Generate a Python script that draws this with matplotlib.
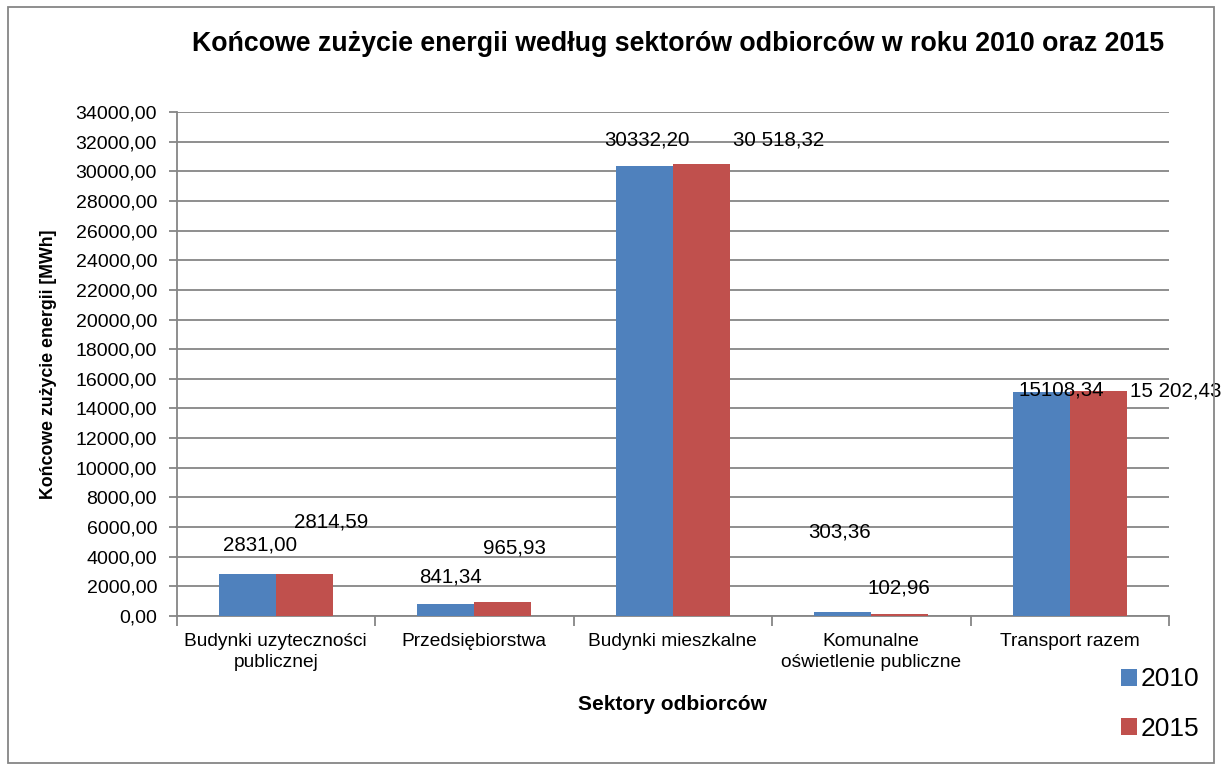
import matplotlib.pyplot as plt
import numpy as np
from matplotlib.patches import Rectangle

plt.rcParams['font.family'] = ['Liberation Sans', 'DejaVu Sans']

# data
sectors = ['Budynki uzyteczności\npublicznej', 'Przedsiębiorstwa', 'Budynki mieszkalne',
           'Komunalne\noświetlenie publiczne', 'Transport razem']
vals_2010 = [2831.00, 841.34, 30332.20, 303.36, 15108.34]
vals_2015 = [2814.59, 965.93, 30518.32, 102.96, 15202.43]
labels_2010 = ['2831,00', '841,34', '30332,20', '303,36', '15108,34']
labels_2015 = ['2814,59', '965,93', '30 518,32', '102,96', '15 202,43']
yticks = np.arange(0, 34001, 2000)

# label offsets (pixels) from bar top, as placed in the original
off_2010 = [(13, 29), (5, 27), (3, 26), (-3, 80), (20, 2)]
off_2015 = [(27, 52), (12, 54), (77, 24), (-1, 26), (77, 0)]

fig = plt.figure(figsize=(12.21, 7.69), dpi=100)
ax = fig.add_axes([176.5/1221, 1-616/769, (1169-176.5)/1221, (616-112)/769])

x = np.arange(len(sectors))
w = 0.287
b1 = ax.bar(x - w/2, vals_2010, w, color='#4F81BD', label='2010', zorder=3)
b2 = ax.bar(x + w/2, vals_2015, w, color='#C0504D', label='2015', zorder=3)

for bars, labs, offs in [(b1, labels_2010, off_2010), (b2, labels_2015, off_2015)]:
    for bar, lab, (dx, dy) in zip(bars, labs, offs):
        ax.annotate(lab, (bar.get_x() + bar.get_width()/2, bar.get_height()),
                    xytext=(dx*0.72, dy*0.72), textcoords='offset points',
                    ha='center', va='center', fontsize=14.8, zorder=4,
                    annotation_clip=False)

ax.set_xlim(-0.5, len(sectors) - 0.5)
ax.set_ylim(0, 34000)
ax.set_yticks(yticks)
ax.set_yticklabels([f'{v:.2f}'.replace('.', ',') for v in yticks], fontsize=14)
ax.yaxis.grid(True, color='#868686', linewidth=1.3, zorder=0)
ax.tick_params(axis='y', length=6, color='#868686', width=1.3, pad=8)

ax.set_xticks(x)
ax.set_xticklabels(sectors, fontsize=13.8, linespacing=1.3)
ax.tick_params(axis='x', length=0, pad=12)
ax.set_xticks(np.arange(len(sectors) + 1) - 0.5, minor=True)
ax.tick_params(axis='x', which='minor', length=7, color='#868686', width=1.3)

for s in ['top', 'right']:
    ax.spines[s].set_visible(False)
for s in ['left', 'bottom']:
    ax.spines[s].set_color('#868686')
    ax.spines[s].set_linewidth(1.3)

ax.set_xlabel('Sektory odbiorców', fontsize=15, fontweight='bold')
ax.xaxis.set_label_coords(0.5, -79/504, transform=ax.transAxes)
ax.set_ylabel('Końcowe zużycie energii [MWh]', fontsize=12.8, fontweight='bold')
ax.yaxis.set_label_coords(-0.120, 0.5)

fig.text(678/1221, 1-44/769,
         'Końcowe zużycie energii według sektorów odbiorców w roku 2010 oraz 2015',
         ha='center', va='center', fontsize=19.3, fontweight='bold')

fig.legend(handles=[b1, b2], loc='center', bbox_to_anchor=(1160/1221, 1-704/769),
           frameon=False, fontsize=19, handlelength=0.6, handleheight=0.6,
           handletextpad=0.15, labelspacing=0.95)

fig.patches.append(Rectangle((8/1221, 6/769), 1206/1221, 756/769, transform=fig.transFigure,
                             fill=False, edgecolor='#868686', linewidth=1.3))

fig.savefig('out.png', dpi=100)
